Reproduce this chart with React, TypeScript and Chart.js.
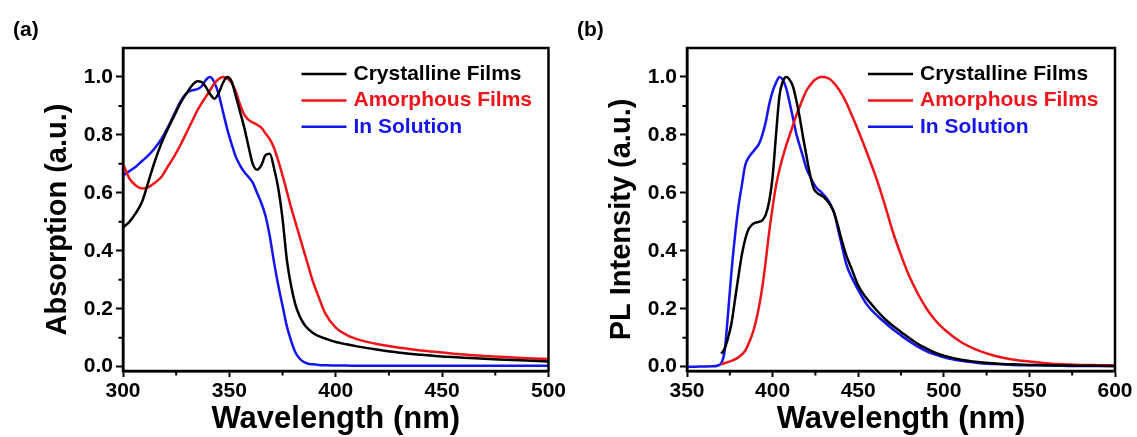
import React, { useEffect, useRef } from "react";
import { Chart, registerables } from "chart.js";

Chart.register(...registerables);

const FONT = "'Liberation Sans', Arial, Helvetica, sans-serif";

const seriesNames = ["Crystalline Films", "Amorphous Films", "In Solution"];
const seriesColors = ["#000000", "#f0141a", "#1414f0"];

// (a) UV-vis absorption, normalised
const absWavelength = [
  300, 303, 306, 309, 312, 315, 318, 321, 324, 327, 330, 333, 335, 337, 339, 341, 343, 345,
  347, 349, 351, 353, 355, 357, 359, 361, 363, 365, 367, 369, 371, 373, 375, 377, 379, 381,
  383, 385, 387, 389, 392, 395, 400, 405, 410, 420, 430, 440, 450, 460, 470, 480, 490, 500,
];
const absCrystalline = [
  0.48, 0.5, 0.53, 0.57, 0.64, 0.71, 0.77, 0.82, 0.865, 0.91, 0.945, 0.975, 0.985, 0.982,
  0.965, 0.94, 0.925, 0.945, 0.98, 1.0, 0.985, 0.935, 0.88, 0.825, 0.76, 0.7, 0.68, 0.695,
  0.73, 0.735, 0.685, 0.615, 0.51, 0.37, 0.28, 0.215, 0.175, 0.148, 0.13, 0.118, 0.105,
  0.097, 0.085, 0.077, 0.07, 0.058, 0.048, 0.041, 0.035, 0.031, 0.027, 0.024, 0.021, 0.018,
];
const absAmorphous = [
  0.7, 0.65, 0.625, 0.615, 0.62, 0.635, 0.655, 0.69, 0.725, 0.765, 0.81, 0.855, 0.885, 0.91,
  0.932, 0.955, 0.978, 0.993, 1.0, 0.995, 0.98, 0.95, 0.905, 0.87, 0.852, 0.843, 0.835,
  0.825, 0.805, 0.785, 0.755, 0.71, 0.66, 0.605, 0.55, 0.5, 0.45, 0.4, 0.35, 0.3, 0.24,
  0.185, 0.135, 0.11, 0.095, 0.077, 0.065, 0.056, 0.049, 0.042, 0.037, 0.033, 0.029, 0.026,
];
const absSolution = [
  0.66, 0.675, 0.69, 0.71, 0.73, 0.755, 0.785, 0.825, 0.87, 0.915, 0.945, 0.955, 0.958,
  0.968, 0.99, 1.0, 0.98, 0.94, 0.88, 0.82, 0.77, 0.725, 0.695, 0.672, 0.655, 0.635, 0.6,
  0.565, 0.52, 0.45, 0.36, 0.28, 0.21, 0.14, 0.09, 0.05, 0.028, 0.016, 0.01, 0.008, 0.006,
  0.005, 0.004, 0.004, 0.003, 0.003, 0.003, 0.003, 0.003, 0.003, 0.003, 0.003, 0.003, 0.003,
];

// (b) photoluminescence, normalised
const plWavelength = [
  350, 355, 360, 365, 368, 370, 372, 374, 376, 378, 380, 382, 384, 386, 388, 390, 392, 394,
  396, 398, 400, 402, 404, 406, 408, 410, 412, 414, 416, 418, 420, 422, 424, 426, 428, 430,
  432, 434, 436, 438, 440, 443, 446, 450, 455, 460, 465, 470, 475, 480, 485, 490, 495, 500,
  510, 520, 530, 540, 550, 560, 570, 580, 590, 600,
];
const plCrystalline = [
  null, null, null, null, null,
  0.045, 0.062, 0.1, 0.15, 0.23, 0.31, 0.385, 0.44, 0.475, 0.49, 0.497, 0.5, 0.505, 0.525,
  0.57, 0.655, 0.8, 0.935, 0.985, 1.0, 0.99, 0.965, 0.915, 0.855, 0.785, 0.72, 0.66, 0.615,
  0.6, 0.592, 0.585, 0.572, 0.555, 0.53, 0.49, 0.445, 0.385, 0.34, 0.28, 0.235, 0.2, 0.168,
  0.142, 0.12, 0.098, 0.078, 0.062, 0.048, 0.038, 0.024, 0.016, 0.011, 0.008, 0.006, 0.005,
  0.004, 0.003, 0.003, 0.002,
];
const plAmorphous = [
  null, null, null, null, null,
  0.008, 0.012, 0.016, 0.02, 0.025, 0.032, 0.042, 0.055, 0.08, 0.11, 0.15, 0.205, 0.275,
  0.365, 0.465, 0.55, 0.625, 0.68, 0.725, 0.765, 0.8, 0.835, 0.87, 0.9, 0.93, 0.955, 0.972,
  0.987, 0.995, 1.0, 1.0, 0.997, 0.99, 0.978, 0.963, 0.945, 0.912, 0.872, 0.815, 0.74, 0.66,
  0.57, 0.47, 0.385, 0.31, 0.25, 0.2, 0.16, 0.13, 0.085, 0.056, 0.037, 0.025, 0.018, 0.012,
  0.008, 0.006, 0.005, 0.004,
];
const plSolution = [
  0, 0, 0.0005, 0.001, 0.004, 0.012, 0.055, 0.185, 0.33, 0.45, 0.55, 0.625, 0.695, 0.722,
  0.738, 0.752, 0.768, 0.8, 0.845, 0.905, 0.95, 0.98, 1.0, 0.99, 0.96, 0.91, 0.855, 0.8,
  0.76, 0.72, 0.68, 0.655, 0.632, 0.615, 0.605, 0.592, 0.578, 0.558, 0.53, 0.48, 0.43,
  0.355, 0.31, 0.265, 0.215, 0.182, 0.155, 0.13, 0.108, 0.087, 0.068, 0.053, 0.042, 0.032,
  0.02, 0.013, 0.009, 0.006, 0.005, 0.004, 0.003, 0.002, 0.002, 0.002,
];

const absXTicks = [300, 350, 400, 450, 500];
const absXMinor = [325, 375, 425, 475];
const plXTicks = [350, 400, 450, 500, 550, 600];
const plXMinor = [375, 425, 475, 525, 575];
const yTicks = [0, 0.2, 0.4, 0.6, 0.8, 1.0];
const yMinor = [0.1, 0.3, 0.5, 0.7, 0.9];

type Num = number | null;

// frame, minor ticks, in-plot legend, axis titles and panel letter
const panelDecor = {
  id: "panelDecor",
  afterDraw(chart: any, _args: any, opts: any) {
    const { ctx, chartArea: a, scales } = chart;
    const xs = scales.x;
    const ys = scales.y;
    ctx.save();
    ctx.strokeStyle = "#000";
    ctx.lineWidth = 2.5;
    ctx.strokeRect(a.left, a.top, a.right - a.left, a.bottom - a.top);

    ctx.lineWidth = 2;
    ctx.beginPath();
    opts.xMinor.forEach((v: number) => {
      const p = xs.getPixelForValue(v);
      ctx.moveTo(p, a.bottom);
      ctx.lineTo(p, a.bottom + 4.5);
    });
    opts.yMinor.forEach((v: number) => {
      const p = ys.getPixelForValue(v);
      ctx.moveTo(a.left, p);
      ctx.lineTo(a.left - 4.5, p);
    });
    ctx.stroke();

    ctx.font = `bold 21px ${FONT}`;
    ctx.textBaseline = "middle";
    ctx.textAlign = "left";
    chart.data.datasets.forEach((ds: any, i: number) => {
      const y = a.top + 26 + i * 26.4;
      ctx.strokeStyle = ds.borderColor;
      ctx.lineWidth = 2.5;
      ctx.beginPath();
      ctx.moveTo(a.right - 247, y);
      ctx.lineTo(a.right - 202, y);
      ctx.stroke();
      ctx.fillStyle = ds.borderColor;
      ctx.fillText(ds.label, a.right - 195, y);
    });

    ctx.fillStyle = "#000";
    ctx.textBaseline = "alphabetic";
    ctx.textAlign = "center";
    ctx.font = `bold 31px ${FONT}`;
    ctx.fillText(opts.xTitle, (a.left + a.right) / 2, a.bottom + 57);

    ctx.save();
    ctx.font = `bold 29px ${FONT}`;
    ctx.translate(a.left - 57, (a.top + a.bottom) / 2 + 10);
    ctx.rotate(-Math.PI / 2);
    ctx.fillText(opts.yTitle, 0, 0);
    ctx.restore();

    ctx.textAlign = "left";
    ctx.font = `bold 21px ${FONT}`;
    ctx.fillText(opts.letter, a.left - 110, 35.5);
    ctx.restore();
  },
};

interface PanelProps {
  left: number;
  width: number;
  yAxisWidth: number;
  padRight: number;
  letter: string;
  xTitle: string;
  yTitle: string;
  xMin: number;
  xMax: number;
  xTicks: number[];
  xMinor: number[];
  wavelength: number[];
  series: Num[][];
}

function Panel(p: PanelProps) {
  const ref = useRef<HTMLCanvasElement>(null);
  useEffect(() => {
    if (!ref.current) return;
    const tickFont = { family: FONT, size: 21, weight: "bold" as const };
    const chart = new Chart(ref.current, {
      type: "line",
      data: {
        datasets: p.series.map((vals, i) => ({
          label: seriesNames[i],
          data: p.wavelength
            .map((x, j) => ({ x, y: vals[j] }))
            .filter((pt) => pt.y !== null) as { x: number; y: number }[],
          borderColor: seriesColors[i],
          backgroundColor: seriesColors[i],
          borderWidth: 2.5,
          pointRadius: 0,
          cubicInterpolationMode: "monotone" as const,
          fill: false,
        })),
      },
      options: {
        responsive: false,
        animation: false,
        devicePixelRatio: 1,
        layout: { padding: { left: 0, top: 48, right: p.padRight, bottom: 0 } },
        plugins: {
          legend: { display: false },
          tooltip: { enabled: false },
          panelDecor: {
            xMinor: p.xMinor,
            yMinor,
            xTitle: p.xTitle,
            yTitle: p.yTitle,
            letter: p.letter,
          },
        } as any,
        scales: {
          x: {
            type: "linear",
            min: p.xMin,
            max: p.xMax,
            afterFit: (s: any) => {
              s.height = 66;
            },
            afterBuildTicks: (s: any) => {
              s.ticks = p.xTicks.map((v) => ({ value: v }));
            },
            grid: { drawOnChartArea: false, tickLength: 6, tickWidth: 2, tickColor: "#000" },
            border: { display: true, width: 2.5, color: "#000" },
            ticks: {
              color: "#000",
              font: tickFont,
              padding: 2,
              maxRotation: 0,
              autoSkip: false,
              callback: (v: any) => String(v),
            },
          },
          y: {
            type: "linear",
            min: -0.015,
            max: 1.1,
            afterFit: (s: any) => {
              s.width = p.yAxisWidth;
            },
            afterBuildTicks: (s: any) => {
              s.ticks = yTicks.map((v) => ({ value: v }));
            },
            grid: { drawOnChartArea: false, tickLength: 7, tickWidth: 2, tickColor: "#000" },
            border: { display: true, width: 2.5, color: "#000" },
            ticks: {
              color: "#000",
              font: tickFont,
              padding: 3,
              autoSkip: false,
              callback: (v: any) => Number(v).toFixed(1),
            },
          },
        },
      },
      plugins: [panelDecor],
    });
    return () => chart.destroy();
  }, []);
  return (
    <canvas
      ref={ref}
      width={p.width}
      height={437}
      style={{ position: "absolute", left: p.left, top: 0, width: p.width, height: 437 }}
    />
  );
}

export default function App() {
  return (
    <div
      style={{
        position: "absolute",
        left: 0,
        top: 0,
        width: 1137,
        height: 437,
        background: "#fff",
        overflow: "hidden",
      }}
    >
      <Panel
        left={0}
        width={568}
        yAxisWidth={123}
        padRight={16}
        letter="(a)"
        xTitle="Wavelength (nm)"
        yTitle="Absorption (a.u.)"
        xMin={300}
        xMax={500}
        xTicks={absXTicks}
        xMinor={absXMinor}
        wavelength={absWavelength}
        series={[absCrystalline, absAmorphous, absSolution]}
      />
      <Panel
        left={568}
        width={569}
        yAxisWidth={119}
        padRight={22}
        letter="(b)"
        xTitle="Wavelength (nm)"
        yTitle="PL Intensity (a.u.)"
        xMin={350}
        xMax={600}
        xTicks={plXTicks}
        xMinor={plXMinor}
        wavelength={plWavelength}
        series={[plCrystalline, plAmorphous, plSolution]}
      />
    </div>
  );
}
